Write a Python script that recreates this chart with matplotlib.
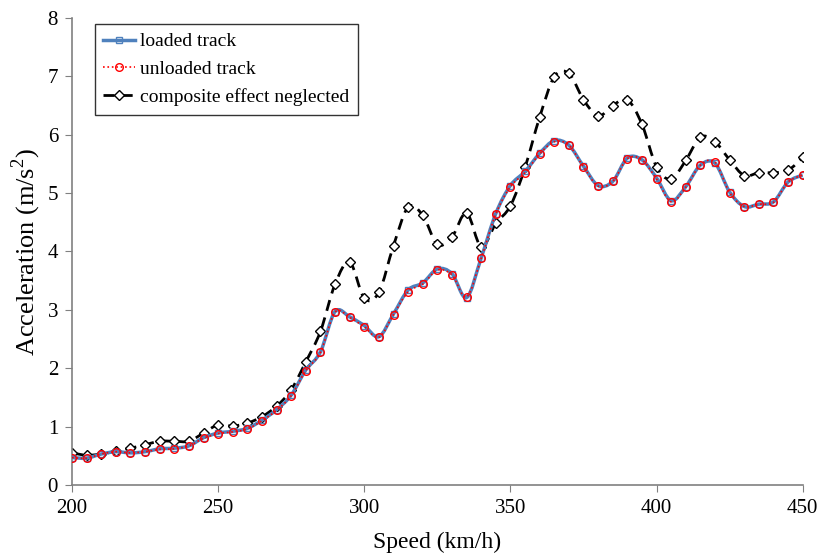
import numpy as np
import matplotlib.pyplot as plt
from matplotlib.path import Path
from matplotlib.patches import PathPatch
from matplotlib.lines import Line2D

plt.rcParams['font.family'] = ['Liberation Serif', 'DejaVu Serif']
plt.rcParams['mathtext.fontset'] = 'custom'
plt.rcParams['mathtext.rm'] = 'Liberation Serif'

speed = np.arange(200, 451, 5)

loaded = [0.47, 0.46, 0.53, 0.57, 0.55, 0.57, 0.62, 0.63, 0.67, 0.81,
          0.89, 0.92, 0.97, 1.11, 1.29, 1.54, 1.97, 2.28, 2.97, 2.88,
          2.73, 2.54, 2.93, 3.34, 3.46, 3.70, 3.62, 3.21, 3.89, 4.65,
          5.13, 5.37, 5.68, 5.90, 5.82, 5.46, 5.13, 5.20, 5.60, 5.57,
          5.26, 4.87, 5.11, 5.48, 5.51, 5.02, 4.77, 4.81, 4.85, 5.19, 5.31]

unloaded = [0.47, 0.46, 0.53, 0.57, 0.55, 0.57, 0.61, 0.62, 0.67, 0.80,
            0.88, 0.91, 0.96, 1.10, 1.28, 1.53, 1.96, 2.27, 2.96, 2.87,
            2.71, 2.53, 2.92, 3.31, 3.44, 3.68, 3.60, 3.22, 3.88, 4.64,
            5.11, 5.35, 5.67, 5.88, 5.82, 5.45, 5.12, 5.20, 5.59, 5.57,
            5.24, 4.85, 5.10, 5.48, 5.53, 5.01, 4.77, 4.81, 4.84, 5.19, 5.31]

composite = [0.55, 0.51, 0.53, 0.58, 0.63, 0.69, 0.75, 0.75, 0.75, 0.89,
             1.03, 1.01, 1.06, 1.17, 1.35, 1.63, 2.11, 2.63, 3.44, 3.82,
             3.20, 3.30, 4.10, 4.76, 4.62, 4.12, 4.25, 4.66, 4.08, 4.48,
             4.78, 5.44, 6.30, 6.99, 7.05, 6.60, 6.32, 6.50, 6.60, 6.18,
             5.45, 5.24, 5.56, 5.96, 5.88, 5.57, 5.30, 5.35, 5.35, 5.39, 5.61]


def smooth_path(x, y):
    # Excel-like smoothed line: Catmull-Rom segments as cubic beziers
    p = np.column_stack([x, y]).astype(float)
    p = np.vstack([p[0], p, p[-1]])
    verts = [p[1]]
    codes = [Path.MOVETO]
    for i in range(1, len(p) - 2):
        c1 = p[i] + (p[i + 1] - p[i - 1]) / 6
        c2 = p[i + 1] - (p[i + 2] - p[i]) / 6
        verts += [c1, c2, p[i + 1]]
        codes += [Path.CURVE4] * 3
    return Path(verts, codes)


fig = plt.figure(figsize=(8.21, 5.56), dpi=100)
ax = fig.add_axes([0.0877, 0.1277, 0.890, 0.840])

styles = [
    (loaded, dict(color='#4F81BD', lw=2.5, ls='-'),
     dict(marker='s', ms=4.5, mfc='none', mec='#4F81BD', mew=1), 'loaded track', 3),
    (unloaded, dict(color='red', lw=1.2, ls=':'),
     dict(marker='o', ms=5.5, mfc='none', mec='red', mew=1), 'unloaded track', 4),
    (composite, dict(color='black', lw=2, ls=(0, (4, 2.5))),
     dict(marker='D', ms=5.5, mfc='white', mec='black', mew=1),
     'composite effect neglected', 2),
]

handles = []
for vals, lstyle, mstyle, name, z in styles:
    ax.add_patch(PathPatch(smooth_path(speed, vals), fill=False,
                           edgecolor=lstyle['color'], lw=lstyle['lw'],
                           ls=lstyle['ls'], zorder=z))
    ax.plot(speed, vals, ls='none', zorder=z + 0.5, **mstyle)
    handles.append(Line2D([], [], color=lstyle['color'], lw=lstyle['lw'],
                          ls=lstyle['ls'], **mstyle, label=name))

ax.set_xlim(200, 450)
ax.set_ylim(0, 8)
ax.set_xticks(range(200, 451, 50))
ax.set_yticks(range(0, 9))

for s in ['top', 'right']:
    ax.spines[s].set_visible(False)
for s in ['left', 'bottom']:
    ax.spines[s].set_color('#808080')
    ax.spines[s].set_linewidth(1.2)
ax.tick_params(direction='out', length=5, color='#808080', labelsize=15,
               pad=5)

ax.set_xlabel('Speed (km/h)', fontsize=17, labelpad=10)
ax.set_ylabel('Acceleration (m/s$^2$)', fontsize=19, labelpad=3)

leg = ax.legend(handles=handles, loc='upper left', bbox_to_anchor=(0.031, 0.987),
                fontsize=14, frameon=True, fancybox=False, edgecolor='black',
                handlelength=1.65, handletextpad=0.25, borderpad=0.45,
                borderaxespad=0, labelspacing=0.52)
leg.get_frame().set_linewidth(1.0)

fig.savefig('out.png', dpi=100)
